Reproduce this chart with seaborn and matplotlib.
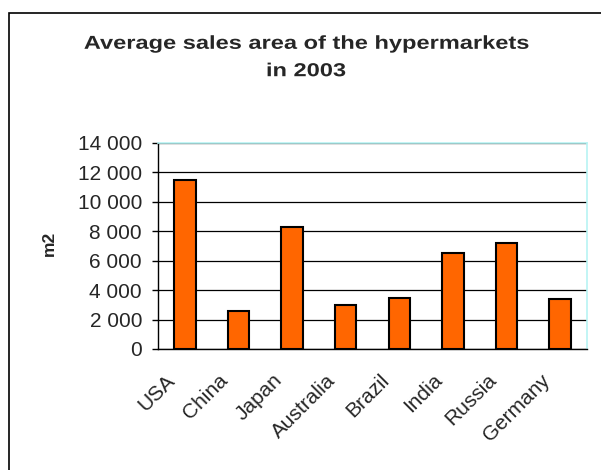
import matplotlib
matplotlib.use("Agg")
import matplotlib.pyplot as plt
import matplotlib.transforms as mtransforms
from matplotlib.patches import Rectangle
from matplotlib.patheffects import AbstractPathEffect
import seaborn as sns
import pandas as pd

countries = ["USA", "China", "Japan", "Australia", "Brazil", "India", "Russia", "Germany"]
area_m2 = [11500, 2600, 8300, 3000, 3500, 6500, 7200, 3400]
y_ticks = [0, 2000, 4000, 6000, 8000, 10000, 12000, 14000]
y_tick_labels = ["0", "2 000", "4 000", "6 000", "8 000", "10 000", "12 000", "14 000"]
title_text = "Average sales area of the hypermarkets\nin 2003"
y_label = "m2"


class WideText(AbstractPathEffect):
    """Widen each text line horizontally about its own centre."""

    def __init__(self, sx=1.0):
        super().__init__()
        self._sx = sx

    def draw_path(self, renderer, gc, tpath, affine, rgbFace=None):
        ext = tpath.get_extents()
        cx = 0.5 * (ext.x0 + ext.x1)
        stretch = (mtransforms.Affine2D().translate(-cx, 0)
                   .scale(self._sx, 1).translate(cx, 0))
        renderer.draw_path(gc, tpath, stretch + affine, rgbFace)


sns.set_style("white")
plt.rcParams["font.family"] = ["Liberation Sans", "DejaVu Sans"]

df = pd.DataFrame({"country": countries, "area": area_m2})

fig = plt.figure(figsize=(6.01, 4.70), dpi=100)
ax = fig.add_axes([158 / 601, 1 - 349 / 470, (587 - 158) / 601, (349 - 143) / 470])

sns.barplot(data=df, x="country", y="area", ax=ax, color="#FF6600",
            saturation=1, width=0.4, edgecolor="black", linewidth=1.5, zorder=3)

ax.set_xlim(-0.5, len(countries) - 0.5)
ax.set_ylim(0, 14000)
ax.set_yticks(y_ticks)
ax.set_yticklabels(y_tick_labels, fontsize=15)
ax.yaxis.grid(True, color="black", linewidth=0.9, zorder=0)
ax.set_axisbelow(True)

# category boundaries carry the tick marks, labels sit under the bars
ax.set_xticks([i + 0.5 for i in range(-1, len(countries))], minor=True)
ax.tick_params(axis="x", which="minor", length=4.5, width=1, color="black", direction="out")
ax.tick_params(axis="x", which="major", length=0, pad=4)
ax.tick_params(axis="y", length=4.5, width=1, color="black", direction="out", left=True, pad=7)
ax.set_xticks(range(len(countries)))
ax.set_xticklabels(countries, fontsize=15, rotation=45, ha="right",
                   rotation_mode="anchor")
offset = mtransforms.ScaledTranslation(-20 / 100, -16 / 100, fig.dpi_scale_trans)
for lbl in ax.get_xticklabels():
    lbl.set_transform(lbl.get_transform() + offset)

ax.set_xlabel("")
ax.set_ylabel("")
fig.text(49 / 601, 1 - 243 / 470, y_label, rotation=90, ha="center", va="center",
         fontsize=12.5, fontweight="bold")

for side in ["left", "bottom"]:
    ax.spines[side].set_visible(True)
    ax.spines[side].set_color("black")
    ax.spines[side].set_linewidth(1)
for side in ["top", "right"]:
    ax.spines[side].set_visible(True)
    ax.spines[side].set_color("#B8F4F4")
    ax.spines[side].set_linewidth(1.2)

fig.text(306 / 601, 1 - 58 / 470, title_text, ha="center", va="center",
         fontsize=13.5, fontweight="bold", linespacing=1.8,
         path_effects=[WideText(1.26)])

# outer frame of the chart
fig.patches.append(Rectangle((8.5 / 601, -0.1), 1.2, 1 - 12.5 / 470 + 0.1,
                             transform=fig.transFigure, fill=False,
                             edgecolor="black", linewidth=1.2, clip_on=False))

fig.savefig("out.png", dpi=100)
